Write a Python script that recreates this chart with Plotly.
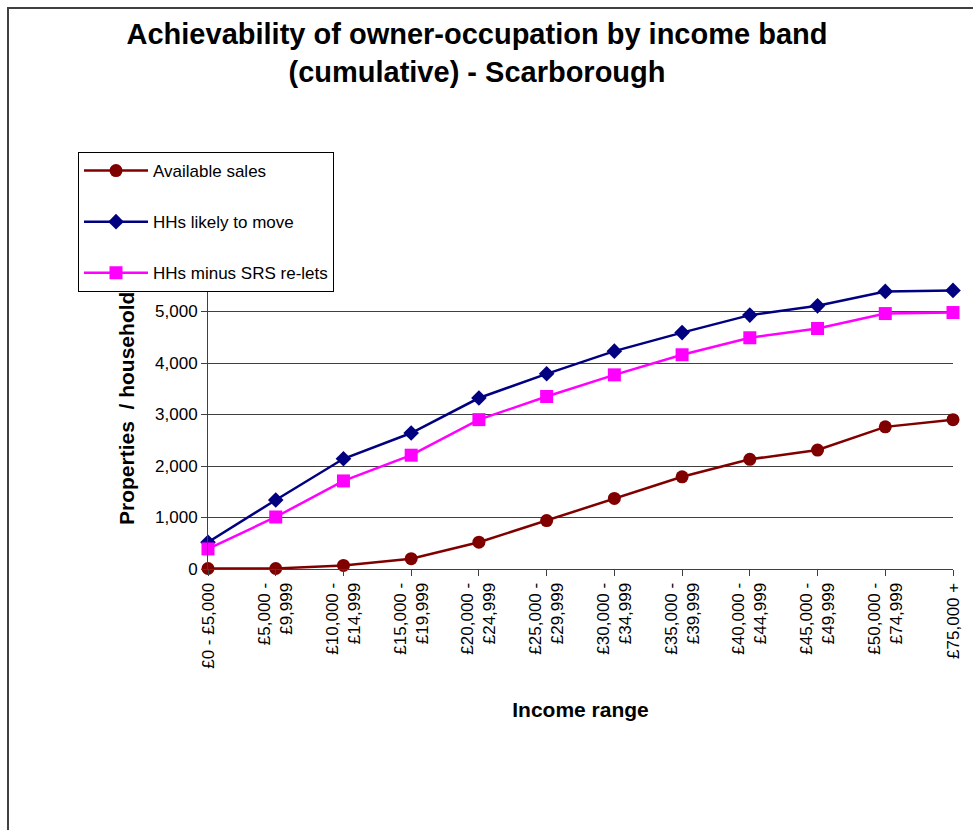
import plotly.graph_objects as go

income_bands = [
    "£0 - £5,000", "£5,000 -<br>£9,999", "£10,000 -<br>£14,999",
    "£15,000 -<br>£19,999", "£20,000 -<br>£24,999", "£25,000 -<br>£29,999",
    "£30,000 -<br>£34,999", "£35,000 -<br>£39,999", "£40,000 -<br>£44,999",
    "£45,000 -<br>£49,999", "£50,000 -<br>£74,999", "£75,000 +",
]
available_sales = [10, 10, 70, 200, 520, 940, 1370, 1790, 2130, 2310, 2760, 2900]
hhs_likely_to_move = [520, 1340, 2140, 2640, 3320, 3790, 4230, 4590, 4930, 5110, 5390, 5410]
hhs_minus_srs_relets = [390, 1010, 1710, 2210, 2900, 3350, 3770, 4160, 4490, 4670, 4960, 4980]

FONT = "Liberation Sans, Arial, sans-serif"
x_idx = list(range(len(income_bands)))

fig = go.Figure()
fig.add_trace(go.Scatter(
    x=x_idx, y=available_sales, name="Available sales", mode="lines+markers",
    line=dict(color="#800000", width=2.5),
    marker=dict(symbol="circle", size=13, color="#800000"),
    cliponaxis=False, legendgroup="a",
))
fig.add_trace(go.Scatter(
    x=x_idx, y=hhs_likely_to_move, name="HHs likely to move", mode="lines+markers",
    line=dict(color="#000080", width=2.5),
    marker=dict(symbol="diamond", size=12, color="#000080"),
    cliponaxis=False, legendgroup="b",
))
fig.add_trace(go.Scatter(
    x=x_idx, y=hhs_minus_srs_relets, name="HHs minus SRS re-lets", mode="lines+markers",
    line=dict(color="#FF00FF", width=2.5),
    marker=dict(symbol="square", size=13, color="#FF00FF"),
    cliponaxis=False, legendgroup="c",
))

W, H = 973, 830
L, R, T, B = 208, 20, 260, 261
pw, ph = W - L - R, H - T - B

def px_x(p):
    return (p - L) / pw

def px_y(p):
    return (H - B - p) / ph

fig.update_layout(
    width=W, height=H,
    margin=dict(l=L, r=R, t=T, b=B, autoexpand=False),
    paper_bgcolor="white", plot_bgcolor="white",
    font=dict(family=FONT, color="black", size=17),
    title=dict(
        text="<b>Achievability of owner-occupation by income band<br>(cumulative) - Scarborough</b>",
        font=dict(family=FONT, size=29, color="black"),
        x=477 / W, xref="container", xanchor="center",
        y=1 - 44 / H, yref="container", yanchor="top",
    ),
    showlegend=True,
    legend=dict(
        x=px_x(78), y=px_y(152), xanchor="left", yanchor="top",
        bgcolor="white", bordercolor="black", borderwidth=1,
        font=dict(family=FONT, size=17, color="black"),
        itemwidth=64, tracegroupgap=26, traceorder="grouped",
    ),
    xaxis=dict(
        range=[0, len(income_bands) - 1],
        tickmode="array", tickvals=x_idx, ticktext=income_bands,
        tickangle=-90, ticks="outside", ticklen=6, tickcolor="#404040",
        showline=True, linecolor="#404040", linewidth=1,
        showgrid=False, zeroline=False,
        tickfont=dict(family=FONT, size=17, color="black"),
        title=dict(text="<b>Income range</b>", font=dict(family=FONT, size=21, color="black"), standoff=34),
    ),
    yaxis=dict(
        range=[0, 6000], dtick=1000, tickformat=",d",
        ticks="outside", ticklen=6, tickcolor="#404040",
        showline=True, linecolor="#404040", linewidth=1,
        showgrid=True, gridcolor="#404040", gridwidth=1,
        zeroline=False,
        tickfont=dict(family=FONT, size=17, color="black"),
    ),
    annotations=[dict(
        text="<b>Properties \u00a0/ households</b>", textangle=-90,
        font=dict(family=FONT, size=21, color="black"),
        xref="paper", yref="paper", x=px_x(126), y=px_y(403),
        xanchor="center", yanchor="middle", showarrow=False,
    )],
    shapes=[dict(
        type="rect", xref="paper", yref="paper",
        x0=px_x(8), x1=px_x(1100), y0=px_y(1000), y1=px_y(8),
        line=dict(color="#404040", width=2), fillcolor="rgba(0,0,0,0)", layer="above",
    )],
)

# keep the legend drawn on top of the axis title, as in the original chart
post = """
var gd = document.querySelector('.plotly-graph-div');
function raiseLegend(){
  var lg = gd.querySelector('g.legend');
  if (lg && lg.parentNode) { lg.parentNode.appendChild(lg); }
}
raiseLegend();
gd.on('plotly_afterplot', raiseLegend);
"""

fig.write_html("out.html", post_script=post)
